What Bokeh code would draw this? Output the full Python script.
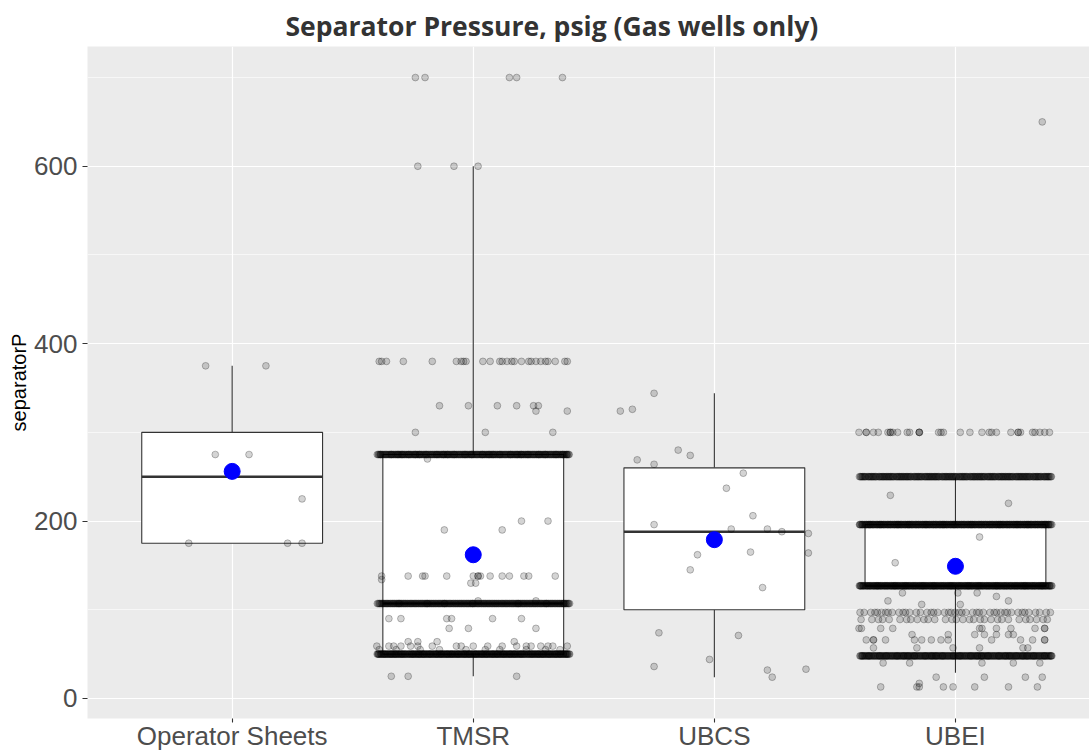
import numpy as np
from bokeh.plotting import figure
from bokeh.models import Range1d, FixedTicker
from bokeh.embed import file_html
from bokeh.resources import INLINE

# ---------------- data ----------------
categories = ["Operator Sheets", "TMSR", "UBCS", "UBEI"]

# box statistics
box_q1 = [175, 50, 100, 127]
box_median = [250, 107, 188, 127]
box_q3 = [300, 275, 260, 196]
whisker_low = [175, 25, 24, 29]
whisker_high = [375, 600, 344, 249]
group_mean = [256, 162, 179, 149]

# sparse (individually visible) points: row value -> jitter offsets (category units)
os_rows = [375, 275, 225, 175]
os_jitter = [[-0.11, 0.14], [-0.07, 0.07], [0.29], [-0.18, 0.23, 0.29]]

tmsr_rows = [700, 600, 380, 330, 324, 300, 270, 200, 190, 138, 134, 130, 110, 90, 79, 64, 59, 55, 25]
tmsr_jitter = [
    [-0.24, -0.20, 0.15, 0.18, 0.37],
    [-0.23, -0.08, 0.02],
    [-0.39, -0.38, -0.36, -0.29, -0.17, -0.07, -0.05, -0.04, -0.03, 0.04, 0.07, 0.11, 0.12,
     0.14, 0.16, 0.17, 0.20, 0.23, 0.24, 0.26, 0.28, 0.30, 0.31, 0.34, 0.38, 0.39],
    [-0.14, -0.02, 0.10, 0.18, 0.25, 0.27],
    [0.26, 0.39],
    [-0.24, 0.05, 0.33],
    [-0.19],
    [0.20, 0.31],
    [-0.12, 0.12],
    [-0.38, -0.27, -0.21, -0.20, -0.11, 0.00, 0.02, 0.02, 0.03, 0.07, 0.12, 0.15, 0.21, 0.23, 0.34],
    [-0.38],
    [-0.01, 0.01],
    [0.02, 0.26],
    [-0.35, -0.30, -0.11, -0.09, 0.08, 0.20],
    [-0.10, -0.02, 0.26],
    [-0.27, -0.23, -0.15, 0.17],
    [-0.40, -0.35, -0.33, -0.30, -0.26, -0.23, -0.17, -0.07, -0.05, 0.00, 0.06, 0.12, 0.18,
     0.22, 0.24, 0.28, 0.31, 0.33, 0.39],
    [-0.39, -0.32, -0.22, -0.14, -0.03, 0.05, 0.11, 0.22, 0.30, 0.36],
    [-0.34, -0.27, 0.18],
]
tmsr_dense_values = [275, 107, 50]
tmsr_dense_counts = [260, 240, 320]

ubcs_values = [344, 324, 326, 280, 274, 269, 264, 254, 237, 206, 196, 191, 191, 188, 186,
               164, 165, 162, 145, 125, 74, 71, 36, 44, 32, 24, 33]
ubcs_jitter = [-0.25, -0.39, -0.34, -0.15, -0.10, -0.32, -0.25, 0.12, 0.05, 0.16, -0.25, 0.07,
               0.22, 0.28, 0.39, 0.39, 0.15, -0.07, -0.10, 0.20, -0.23, 0.10, -0.25, -0.02,
               0.22, 0.24, 0.38]

ubei_rows = [650, 300, 229, 220, 182, 153, 119, 115, 110, 106, 79, 72, 66, 57, 40, 24, 17, 13]
ubei_jitter = [
    [0.36],
    [-0.40, -0.37, -0.37, -0.34, -0.32, -0.28, -0.27, -0.27, -0.26, -0.24, -0.20, -0.19, -0.15,
     -0.15, -0.15, -0.07, -0.06, -0.05, 0.02, 0.06, 0.11, 0.14, 0.15, 0.17, 0.23, 0.26, 0.26,
     0.27, 0.32, 0.33, 0.35, 0.37, 0.39],
    [-0.27],
    [0.22],
    [0.10],
    [-0.25],
    [-0.22, 0.01, 0.09],
    [0.17],
    [-0.28, 0.22],
    [-0.14, 0.02],
    [-0.40, -0.39, -0.31, -0.26, 0.10, 0.11, 0.17, 0.23, 0.33, 0.37, 0.37],
    [-0.18, -0.03, 0.08, 0.12, 0.17, 0.22, 0.24],
    [-0.37, -0.34, -0.34, -0.29, -0.17, -0.14, -0.10, -0.06, -0.03, 0.15, 0.27, 0.32, 0.37, 0.37],
    [-0.34, -0.16, -0.01, 0.10, 0.28, 0.30],
    [-0.30, -0.19, 0.11, 0.24, 0.35],
    [-0.08, 0.12, 0.29, 0.36],
    [-0.15],
    [-0.31, -0.16, -0.15, -0.05, -0.01, 0.08, 0.22, 0.34],
]
ubei_dense_values = [250, 196, 127, 97, 89, 48]
ubei_dense_counts = [220, 300, 300, 45, 30, 260]

y_ticks = [0, 200, 400, 600]
y_minor = [100, 300, 500, 700]

# ---------------- assemble points ----------------
def spread(n, phase):
    # evenly filled jitter band of width 0.8 (deterministic)
    return ((np.arange(n) * 0.6180339887 + phase) % 1.0 - 0.5) * 0.8

px, py = [], []

def add_rows(pos, rows, jit):
    for v, js in zip(rows, jit):
        for j in js:
            px.append(pos + j)
            py.append(v)

def add_dense(pos, vals, counts):
    for k, (v, n) in enumerate(zip(vals, counts)):
        for j in spread(n, 0.13 * (k + 1)):
            px.append(pos + j)
            py.append(v)

add_rows(1, os_rows, os_jitter)
add_rows(2, tmsr_rows, tmsr_jitter)
add_dense(2, tmsr_dense_values, tmsr_dense_counts)
for v, j in zip(ubcs_values, ubcs_jitter):
    px.append(3 + j)
    py.append(v)
add_rows(4, ubei_rows, ubei_jitter)
add_dense(4, ubei_dense_values, ubei_dense_counts)

pos = np.arange(1, len(categories) + 1)
half = 0.375

# ---------------- figure ----------------
p = figure(width=1089, height=754, output_backend="svg", toolbar_location=None,
           x_range=Range1d(0.4, 4.556), y_range=Range1d(-22.6, 735),
           min_border_left=87, min_border_right=0, min_border_top=46, min_border_bottom=36,
           title="Separator Pressure, psig (Gas wells only)")
p.background_fill_color = "#EBEBEB"
p.border_fill_color = "white"
p.outline_line_color = None

p.title.align = "left"
p.title.vertical_align = "top"
p.title.offset = 198
p.title.standoff = 1
p.title.text_font = "Open Sans"
p.title.text_font_style = "bold"
p.title.text_font_size = "26.5px"
p.title.text_color = "#333333"

# grid
p.xgrid.ticker = FixedTicker(ticks=list(pos))
p.ygrid.ticker = FixedTicker(ticks=y_ticks, minor_ticks=y_minor)
for g in (p.xgrid, p.ygrid):
    g.grid_line_color = "white"
    g.grid_line_width = 1.2
p.ygrid.minor_grid_line_color = "white"
p.ygrid.minor_grid_line_width = 0.6

# axes
p.xaxis.ticker = FixedTicker(ticks=list(pos))
p.xaxis.major_label_overrides = {int(i): c for i, c in zip(pos, categories)}
p.yaxis.ticker = FixedTicker(ticks=y_ticks)
for ax in (p.xaxis, p.yaxis):
    ax.axis_line_color = None
    ax.major_tick_line_color = "#333333"
    ax.major_tick_line_width = 1.1
    ax.major_tick_in = 0
    ax.minor_tick_line_color = None
    ax.major_label_text_font = "Liberation Sans"
    ax.major_label_text_font_size = "26px"
    ax.major_label_text_color = "#4D4D4D"
p.xaxis.major_tick_out = 4
p.xaxis.major_label_standoff = -2
p.yaxis.major_tick_out = 5
p.yaxis.major_label_standoff = 5
p.yaxis.axis_label = "separatorP"
p.yaxis.axis_label_text_font = "Liberation Sans"
p.yaxis.axis_label_text_font_size = "20px"
p.yaxis.axis_label_text_font_style = "normal"
p.yaxis.axis_label_text_color = "black"
p.yaxis.axis_label_standoff = 1

# whiskers
p.segment(x0=pos, y0=box_q3, x1=pos, y1=whisker_high, line_color="#333333", line_width=1.1)
p.segment(x0=pos, y0=box_q1, x1=pos, y1=whisker_low, line_color="#333333", line_width=1.1)
# boxes
p.quad(left=pos - half, right=pos + half, bottom=box_q1, top=box_q3,
       fill_color="white", line_color="#333333", line_width=1.1)
p.segment(x0=pos - half, y0=box_median, x1=pos + half, y1=box_median,
          line_color="#333333", line_width=2.6)

# jittered points
p.scatter(px, py, size=6.8, fill_color="black", fill_alpha=0.17,
          line_color="black", line_alpha=0.25, line_width=1)

# means
p.scatter(pos, group_mean, size=16, fill_color="blue", line_color="blue")

open("out.html", "w").write(file_html(p, INLINE))
